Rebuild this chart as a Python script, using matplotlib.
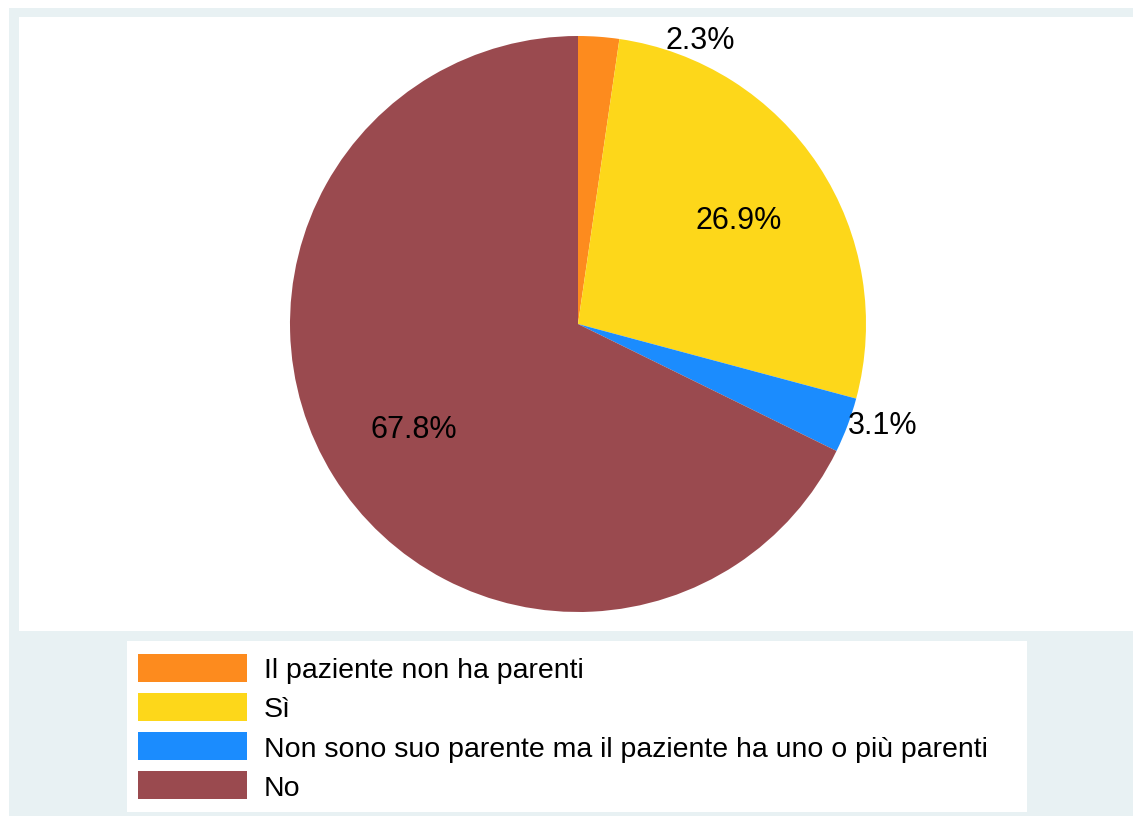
import matplotlib
matplotlib.use("Agg")
import matplotlib.pyplot as plt
from matplotlib.patches import Rectangle
import numpy as np

plt.rcParams['font.family'] = ['Liberation Sans', 'DejaVu Sans']

categories = ["Il paziente non ha parenti", "Sì",
              "Non sono suo parente ma il paziente ha uno o più parenti", "No"]
values = [2.3, 26.9, 3.1, 67.8]
colors = ["#FD8B1E", "#FDD71A", "#1B8CFE", "#9A4A4F"]

W, H = 1133, 828
fig = plt.figure(figsize=(W / 100, H / 100), dpi=100)
fig.patch.set_facecolor("white")

def fr(x0, y0, x1, y1):
    return (x0 / W, 1 - y1 / H, (x1 - x0) / W, (y1 - y0) / H)

# outer graph region (bluish) and plot region (white)
l, b, w, h = fr(9, 9, 1140, 817)
fig.patches.append(Rectangle((l, b), w, h, transform=fig.transFigure,
                             facecolor="#E8F1F3", edgecolor="none", zorder=-3))
l, b, w, h = fr(19, 18, 1140, 632)
fig.patches.append(Rectangle((l, b), w, h, transform=fig.transFigure,
                             facecolor="white", edgecolor="none", zorder=-2))
# legend box
l, b, w, h = fr(127, 642, 1027, 813)
fig.patches.append(Rectangle((l, b), w, h, transform=fig.transFigure,
                             facecolor="white", edgecolor="none", zorder=-2))

# pie axes: center (578,325), radius 288 px
cx, cy, r = 578, 325, 288
ax = fig.add_axes(fr(cx - r, cy - r, cx + r, cy + r))
ax.set_zorder(1)
ax.set_facecolor("none")
wedges, _ = ax.pie(values, colors=colors, startangle=90, counterclock=False,
                   radius=1, wedgeprops=dict(linewidth=0))
ax.set_xlim(-1, 1)
ax.set_ylim(-1, 1)
ax.axis("off")

lfs = 22
fs = 20.5
for wdg, v in zip(wedges, values):
    mid = np.deg2rad((wdg.theta1 + wdg.theta2) / 2)
    txt = f"{v:.1f}%"
    if v < 10:
        x, y = np.cos(mid) * 1.0, np.sin(mid) * 1.0
        dx, dy = 0, 0
        if y > 0.9:
            x += 0.23
            dy = -3
        ax.annotate(txt, (x, y), xytext=(dx, dy), textcoords="offset pixels",
                    ha="left", va="center", fontsize=lfs, color="black",
                    annotation_clip=False)
    else:
        ax.annotate(txt, (np.cos(mid) * 0.67, np.sin(mid) * 0.67),
                    xytext=(0, -2.5), textcoords="offset pixels",
                    ha="center", va="center", fontsize=lfs, color="black")

leg = fig.legend(wedges, categories, loc="upper left",
                 bbox_to_anchor=(138 / W, 1 - 654.5 / H),
                 frameon=False, fontsize=fs, borderpad=0, borderaxespad=0,
                 handlelength=3.82, handleheight=1.15, handletextpad=0.6,
                 labelspacing=0.33)
leg.set_zorder(2)

fig.savefig("out.png", dpi=100, facecolor=fig.get_facecolor())
